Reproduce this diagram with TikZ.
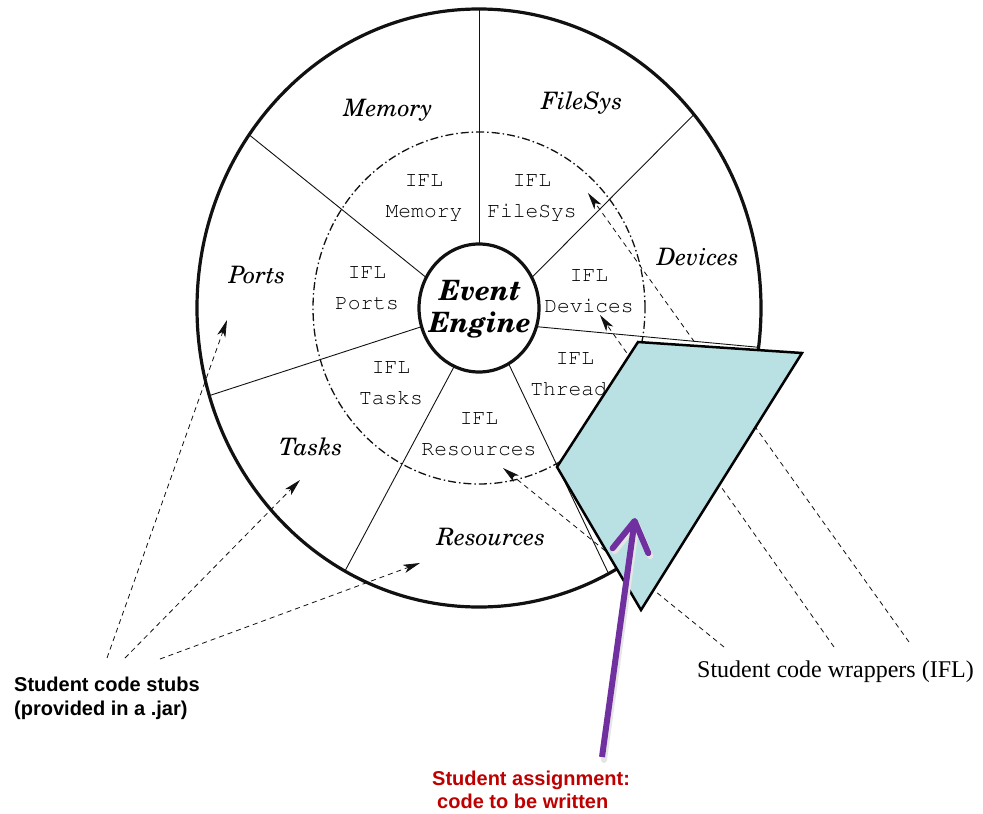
\documentclass[tikz,border=0pt]{standalone}
\usepackage[T1]{fontenc}
\usepackage{fontspec}
\setmainfont{Liberation Serif}
\newfontfamily\arialfont{Liberation Sans}
\usetikzlibrary{arrows.meta,calc,positioning,shapes.geometric}
\definecolor{ink}{HTML}{111111}
\definecolor{wrapfill}{HTML}{B9E0E3}
\definecolor{assign}{HTML}{7030A0}
\definecolor{redtext}{HTML}{C00000}
\newcommand{\schola}{\fontencoding{T1}\fontfamily{pnc}\selectfont}
\newcommand{\courier}{\fontencoding{T1}\fontfamily{pcr}\selectfont}

\begin{document}
\begin{tikzpicture}[x=1pt,y=-1pt,>=Stealth,
  ringline/.style={ellipse,draw=ink,outer sep=0pt},
  spoke/.style={line width=0.9pt,ink},
  sector/.style={font=\schola\itshape\fontsize{24}{28}\selectfont},
  ifl/.style={font=\courier\fontsize{21.3}{31}\selectfont,align=center,inner sep=0pt},
  stubline/.style={ink,line width=0.8pt,dash pattern=on 5pt off 4pt,-{Stealth[length=17pt,width=8.5pt,inset=4.5pt]}}]
\useasboundingbox (0,0) rectangle (983,814);
\coordinate (c) at (479,308);
% rings
\node[ringline,line width=3.2pt,minimum width=564pt,minimum height=598pt] (ring) at (c) {};
\node[ringline,line width=1.3pt,dash pattern=on 8pt off 3pt on 1.5pt off 3pt,minimum width=332pt,minimum height=352pt] (iflring) at (c) {};
\node[ringline,line width=3.2pt,fill=white,minimum width=120pt,minimum height=128pt] (ee) at (c) {};
\foreach \a/\b in {90/90,150/143,30/42,-18/-8,-62/-64,-113/-117,198/198}
  \draw[spoke] (ee.\a) -- (ring.\b);
\node[font=\schola\bfseries\itshape\fontsize{28}{32}\selectfont,align=center,inner sep=0pt] (eetext) at (480,309) {Event\\Engine};
% outer sectors
\node[sector] (memory) at (388,110) {Memory};
\node[sector] (filesys) at (582,103) {FileSys};
\node[sector] (devices) at (698,257) {Devices};
\node[sector] (ports) at (257,275) {Ports};
\node[sector] (tasks) at (311,447) {Tasks};
\node[sector] (resources) at (491,537) {Resources};
% inner wrappers
\node[ifl] (iflmemory) at (424,198) {IFL\\Memory};
\node[ifl] (iflfilesys) at (532,198) {IFL\\FileSys};
\node[ifl] (iflports) at (367,288) {IFL\\Ports};
\node[ifl] (ifldevices) at (589,291) {IFL\\Devices};
\node[ifl] (ifltasks) at (391,383) {IFL\\Tasks};
\node[ifl] (iflresources) at (479,434) {IFL\\Resources};
\node[ifl] (iflthreads) at (575,374) {IFL\\Threads};
% stubs arrows
\coordinate (stubA) at (107,658);
\coordinate (stubB) at (125,658);
\coordinate (stubC) at (160,659);
\coordinate (tipP) at (227,320);
\coordinate (tipT) at (300,480);
\coordinate (tipR) at (420,563);
\draw[stubline] (stubA) -- (tipP);
\draw[stubline] (stubB) -- (tipT);
\draw[stubline] (stubC) -- (tipR);
% wrapper arrows
\coordinate (wrapA) at (724,647);
\coordinate (wrapB) at (834,647);
\coordinate (wrapC) at (909,642);
\coordinate (tipRes) at (503,468);
\coordinate (tipDev) at (600,315);
\coordinate (tipFs) at (588,193);
\draw[stubline] (wrapA) -- (tipRes);
\draw[stubline] (wrapB) -- (tipDev);
\draw[stubline] (wrapC) -- (tipFs);
% assignment patch
\draw[black,line width=2.5pt,fill=wrapfill,line join=miter] (638,342) -- (802,353) -- (641,610) -- (557,467) -- cycle;
\coordinate (assignfoot) at (602,757);
\coordinate (assigntip) at (635,518);
\draw[black!10,line width=6pt,line cap=round,-{Straight Barb[length=30pt,width=36pt,round]}] ([shift={(2,3)}]assignfoot) -- ([shift={(2,3)}]assigntip);
\draw[assign,line width=6pt,-{Straight Barb[length=30pt,width=36pt,round]}] (assignfoot) -- (assigntip);
% captions
\node[anchor=west,align=left,inner sep=0pt,font=\arialfont\bfseries\fontsize{20}{24}\selectfont] (stubs) at (14,698) {Student code stubs\\(provided in a .jar)};
\node[anchor=west,inner sep=0pt,font=\fontsize{24}{28}\selectfont] (wrappers) at (697,672) {Student code wrappers (IFL)};
\node[anchor=west,align=left,inner sep=0pt,text=redtext,font=\arialfont\bfseries\fontsize{20}{23}\selectfont] (assignment) at (432,790) {Student assignment:\\\hspace*{5pt}code to be written};
\end{tikzpicture}
\end{document}
